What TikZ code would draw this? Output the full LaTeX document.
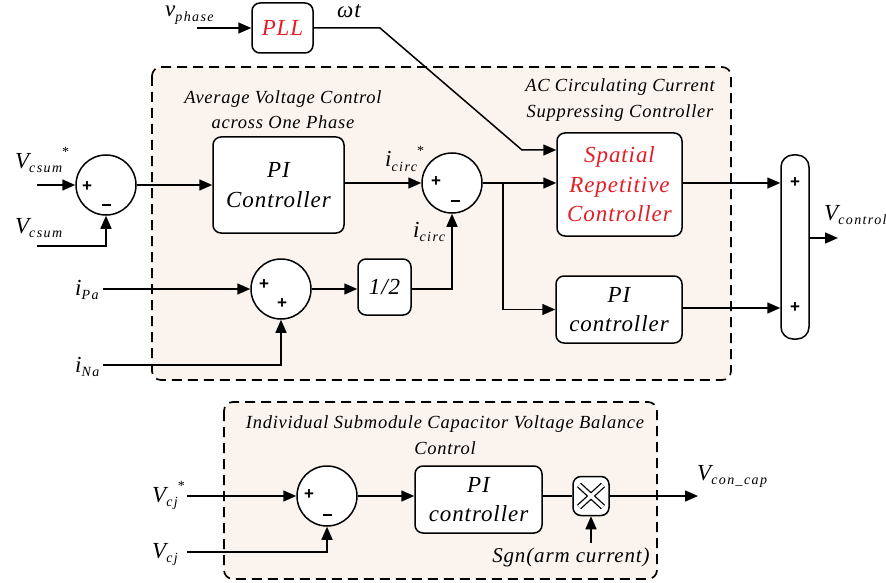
\documentclass[tikz,border=0pt]{standalone}
\usepackage{fontspec}
\setmainfont{Liberation Serif}[LetterSpace=4]
\newfontfamily\signfont{Liberation Sans}
\usetikzlibrary{arrows.meta}
\definecolor{grpfill}{RGB}{250,243,238}
\definecolor{srcred}{RGB}{228,30,38}
\newcommand{\bigtx}{\fontsize{23}{29.5}\selectfont\itshape}
\newcommand{\ttltx}{\fontsize{18.5}{25.5}\selectfont\itshape}
\newcommand{\subtx}{\fontsize{14}{14}\selectfont\itshape\addfontfeature{LetterSpace=10}}
\newcommand{\sigl}[3]{{\fontsize{23}{23}\selectfont\itshape #1}\raisebox{-4.5pt}{\subtx #2}#3}
\newcommand{\strx}{\raisebox{12pt}{\fontsize{14}{14}\selectfont *}}
\newcommand{\minusbar}{\rule[3.5pt]{9pt}{2pt}}
\begin{document}
\begin{tikzpicture}[x=1pt,y=-1pt,
  blk/.style={draw, rounded corners=8pt, fill=white, line width=1.5pt, align=center, inner sep=0pt, font=\bigtx},
  sumc/.style={draw, circle, minimum size=60pt, inner sep=0pt, fill=white, line width=1.5pt},
  sig/.style={line width=1.5pt},
  arr/.style={sig, -{Triangle[length=13pt,width=11pt]}},
  grp/.style={draw, fill=grpfill, line width=1.7pt, dash pattern=on 10pt off 6pt, rounded corners=9pt},
  lbl/.style={inner sep=0pt, anchor=base west},
  ttl/.style={inner sep=0pt, align=center, font=\ttltx},
  sgn/.style={inner sep=0pt, font=\signfont\bfseries\fontsize{17}{17}\selectfont}
]
\useasboundingbox (0,0) rectangle (886,583);

% group boxes
\draw[grp] (152,67) rectangle (731,380);
\draw[grp] (224,402) rectangle (657,579);

\node[ttl] (t1) at (283,109.5) {Average Voltage Control\\across One Phase};
\node[ttl] (t2) at (620,100) {AC Circulating Current\\Suppressing Controller};
\node[ttl] (t3) at (445,435) {Individual Submodule Capacitor Voltage Balance\\Control};

% blocks
\node[blk, minimum width=61pt, minimum height=50pt, text=srcred] (pll) at (282.5,28) {PLL};
\node[blk, minimum width=131pt, minimum height=96pt] (pi1) at (278.5,185) {PI\\Controller};
\node[blk, minimum width=125pt, minimum height=103pt, text=srcred] (sp) at (619.5,184.5) {Spatial\\Repetitive\\Controller};
\node[blk, minimum width=126pt, minimum height=67pt] (pi2) at (619,309.5) {PI\\controller};
\node[blk, minimum width=53pt, minimum height=56pt] (half) at (384.5,287) {1/2};
\node[blk, minimum width=127pt, minimum height=67pt] (pi3) at (478.5,499.5) {PI\\controller};
\node[blk, minimum width=28pt, minimum height=184pt, rounded corners=12pt] (fin) at (795,247) {};
\node[blk, minimum width=36pt, minimum height=39pt] (mul) at (591,496) {};
\draw[line width=6pt] (579,485)--(603,507) (603,485)--(579,507);
\draw[line width=3.4pt, white] (579,485)--(603,507) (603,485)--(579,507);

% summers
\node[sumc] (s1) at (106,185) {};
\node[sumc] (s2) at (452,183) {};
\node[sumc] (s3) at (281,289) {};
\node[sumc] (s4) at (327,496) {};

\node[sgn] at (87,187) {+};
\node[sgn] at (106,207) {\minusbar};
\node[sgn] at (436,182) {+};
\node[sgn] at (455,203) {\minusbar};
\node[sgn] at (264,285) {+};
\node[sgn] at (282,304) {+};
\node[sgn] at (309,495) {+};
\node[sgn] at (327,517) {\minusbar};
\node[sgn] at (795,183) {+};
\node[sgn] at (795,308) {+};

% labels
\node[lbl] (lvp) at (165,17) {\sigl{v}{phase}{}};
\node[lbl] (lwt) at (337,18) {\fontsize{23}{23}\selectfont\itshape ωt};
\node[lbl] (lvs1) at (15,168) {\sigl{V}{csum}{\strx}};
\node[lbl] (lvs2) at (15,233) {\sigl{V}{csum}{}};
\node[lbl] (lic1) at (385,167) {\sigl{i}{circ}{\strx}};
\node[lbl] (lic2) at (413,237) {\sigl{i}{circ}{}};
\node[lbl] (lipa) at (75,295) {\sigl{i}{Pa}{}};
\node[lbl] (lina) at (75,372) {\sigl{i}{Na}{}};
\node[lbl] (lvc) at (824,220) {\sigl{V}{control}{}};
\node[lbl] (lcj1) at (152,502) {\sigl{V}{cj}{\strx}};
\node[lbl] (lcj2) at (152,558) {\sigl{V}{cj}{}};
\node[lbl] (lcc) at (697,480) {\sigl{V}{con\_cap}{}};
\node[inner sep=0pt, anchor=base] (lsg) at (571,562) {\fontsize{21}{21}\selectfont\itshape Sgn(arm current)};

% input coordinates
\coordinate (vpin) at (197,28);
\coordinate (vs1in) at (37,185);
\coordinate (vs2in) at (37,246);
\coordinate (ipain) at (103,289);
\coordinate (inain) at (103,365);
\coordinate (cj1in) at (187,496);
\coordinate (cj2in) at (187,552);
\coordinate (sgnin) at (591,543);
\coordinate (wt1) at (380,28);
\coordinate (wt2) at (522,150);
\coordinate (br) at (503,183);
\coordinate (vcout) at (838,238);
\coordinate (ccout) at (698,496);

% connectors
\draw[arr] (vpin) -- (pll.west);
\draw[arr] (pll.east) -- (wt1) -- (wt2) -- (wt2 -| sp.west);
\draw[arr] (vs1in) -- (s1.west);
\draw[arr] (vs2in) -| (s1.south);
\draw[arr] (s1.east) -- (s1.east -| pi1.west);
\draw[arr] (pi1.east |- s2.west) -- (s2.west);
\draw[arr] (ipain) -- (s3.west);
\draw[arr] (inain) -| (s3.south);
\draw[arr] (s3.east) -- (s3.east -| half.west);
\draw[arr] (half.east |- s3.east) -| (s2.south);
\draw[arr] (s2.east) -- (s2.east -| sp.west);
\draw[arr] (br) |- (pi2.west);
\draw[arr] (sp.east |- s2.east) -- (s2.east -| fin.west);
\draw[arr] (pi2.east |- 0,308) -- (fin.west |- 0,308);
\draw[arr] (fin.east |- vcout) -- (vcout);
\draw[arr] (cj1in) -- (s4.west);
\draw[arr] (cj2in) -| (s4.south);
\draw[arr] (s4.east) -- (s4.east -| pi3.west);
\draw[sig] (pi3.east |- mul.west) -- (mul.west);
\draw[arr] (mul.east) -- (ccout);
\draw[arr] (sgnin) -- (mul.south);
\end{tikzpicture}
\end{document}
